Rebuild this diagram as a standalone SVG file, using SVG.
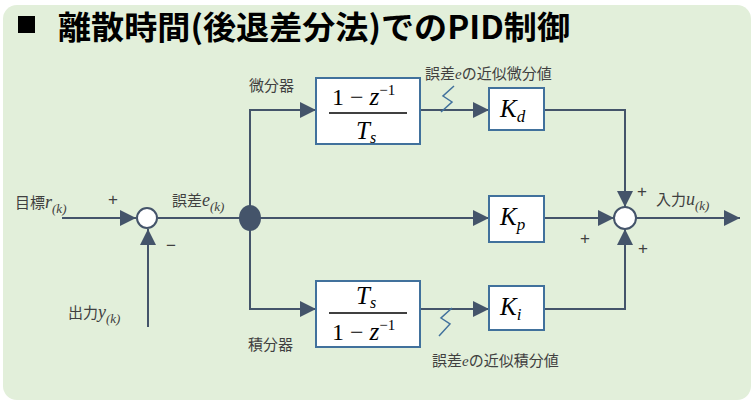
<svg xmlns="http://www.w3.org/2000/svg" width="754" height="403" viewBox="0 0 754 403">
<defs>
<marker id="ar" viewBox="0 0 10 10" refX="10" refY="5" markerWidth="16" markerHeight="16" markerUnits="userSpaceOnUse" orient="auto"><path d="M0,0 L10,5 L0,10 z" fill="#44546a"/></marker>
<style>
.l{fill:none;stroke:#44546a;stroke-width:2}
.b{fill:#fff;stroke:#41719c;stroke-width:2}
.t{font-family:"Noto Sans CJK JP","Liberation Sans",sans-serif;font-size:15px;fill:#404040}
.p{font-family:"Liberation Sans",sans-serif;font-size:17px;fill:#404040}
.m{font-family:"Liberation Serif",serif;font-style:italic;font-size:25px;fill:#000}
.f{font-family:"Liberation Serif",serif;font-size:24px;fill:#000}
.q{fill:none;stroke:#41719c;stroke-width:1.5}
</style>
</defs>
<rect x="3" y="5" width="748" height="395" rx="14" fill="#e2efda"/>
<rect x="18" y="16" width="17" height="17" fill="#000"/>
<text x="58" y="39" font-family="Noto Sans CJK JP,sans-serif" font-weight="bold" font-size="32" textLength="512" lengthAdjust="spacingAndGlyphs" fill="#000">離散時間(後退差分法)でのPID制御</text>
<g id="connectors">
<line class="l" x1="62" y1="218" x2="136" y2="218" marker-end="url(#ar)"/>
<line class="l" x1="148" y1="327" x2="148" y2="229" marker-end="url(#ar)"/>
<line class="l" x1="158" y1="218" x2="240" y2="218"/>
<line class="l" x1="260" y1="218" x2="489" y2="218" marker-end="url(#ar)"/>
<polyline class="l" points="250,218 250,110 316,110" marker-end="url(#ar)"/>
<polyline class="l" points="250,218 250,309 316,309" marker-end="url(#ar)"/>
<line class="l" x1="420" y1="110" x2="489" y2="110" marker-end="url(#ar)"/>
<line class="l" x1="420" y1="309" x2="489" y2="309" marker-end="url(#ar)"/>
<polyline class="l" points="544,110 625,110 625,207" marker-end="url(#ar)"/>
<polyline class="l" points="544,309 625,309 625,229" marker-end="url(#ar)"/>
<line class="l" x1="544" y1="218" x2="614" y2="218" marker-end="url(#ar)"/>
<line class="l" x1="636" y1="218" x2="740" y2="218" marker-end="url(#ar)"/>
<path class="q" d="M454,86 L443,96 L452,102 L441,112"/>
<path class="q" d="M452,308 L441,318 L450,324 L439,336"/>
</g>
<g id="sum1"><circle cx="147" cy="218" r="10" fill="#fff" stroke="#44546a" stroke-width="2"/></g>
<g id="junction"><ellipse cx="250" cy="218" rx="11" ry="13" fill="#44546a"/></g>
<g id="sum2"><circle cx="625" cy="218" r="11" fill="#fff" stroke="#44546a" stroke-width="2"/></g>
<g id="diff"><rect class="b" x="316" y="78" width="104" height="66"/>
<text class="f" x="332" y="105">1 − <tspan class="m">z</tspan><tspan font-size="15" dy="-10">−1</tspan></text>
<line x1="329" y1="113" x2="407" y2="113" stroke="#000" stroke-width="1.5"/>
<text class="m" x="356" y="139">T<tspan font-size="16" dy="4">s</tspan></text></g>
<g id="integ"><rect class="b" x="316" y="281" width="104" height="66"/>
<text class="m" x="356" y="304">T<tspan font-size="16" dy="4">s</tspan></text>
<line x1="329" y1="313" x2="407" y2="313" stroke="#000" stroke-width="1.5"/>
<text class="f" x="332" y="340">1 − <tspan class="m">z</tspan><tspan font-size="15" dy="-10">−1</tspan></text></g>
<g id="kd"><rect class="b" x="489" y="88" width="55" height="42"/><text class="m" x="500" y="117">K<tspan font-size="17" dy="5">d</tspan></text></g>
<g id="kp"><rect class="b" x="489" y="196" width="55" height="46"/><text class="m" x="500" y="225">K<tspan font-size="17" dy="5">p</tspan></text></g>
<g id="ki"><rect class="b" x="489" y="286" width="55" height="44"/><text class="m" x="500" y="315">K<tspan font-size="17" dy="5">i</tspan></text></g>
<g id="labels">
<text class="t" x="15" y="208">目標<tspan font-family="Liberation Serif" font-style="italic" font-size="18">r</tspan><tspan font-family="Liberation Serif" font-style="italic" font-size="13" dy="5">(k)</tspan></text>
<text class="p" x="108" y="205">+</text>
<text class="p" x="166" y="251">−</text>
<text class="t" x="172" y="206">誤差<tspan font-family="Liberation Serif" font-style="italic" font-size="18">e</tspan><tspan font-family="Liberation Serif" font-style="italic" font-size="13" dy="5">(k)</tspan></text>
<text class="t" x="68" y="318">出力<tspan font-family="Liberation Serif" font-style="italic" font-size="18">y</tspan><tspan font-family="Liberation Serif" font-style="italic" font-size="13" dy="5">(k)</tspan></text>
<text class="t" x="249" y="91">微分器</text>
<text class="t" x="248" y="350">積分器</text>
<text class="t" x="425" y="79">誤差<tspan font-family="Liberation Serif" font-style="italic">e</tspan>の近似微分値</text>
<text class="t" x="432" y="366">誤差<tspan font-family="Liberation Serif" font-style="italic">e</tspan>の近似積分値</text>
<text class="p" x="637" y="197">+</text>
<text class="t" x="656" y="205">入力<tspan font-family="Liberation Serif" font-style="italic" font-size="18">u</tspan><tspan font-family="Liberation Serif" font-style="italic" font-size="13" dy="5">(k)</tspan></text>
<text class="p" x="580" y="244">+</text>
<text class="p" x="638" y="254">+</text>
</g>
</svg>
